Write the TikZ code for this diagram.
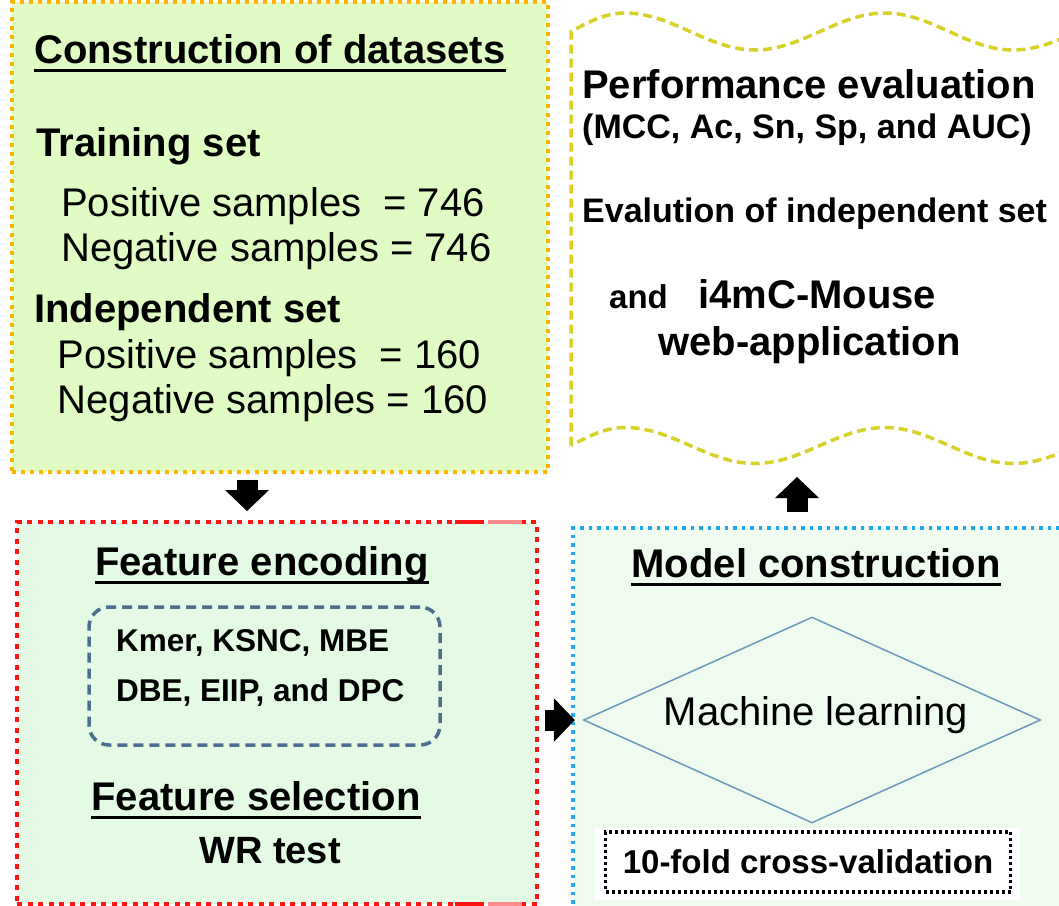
\documentclass[tikz,border=0pt]{standalone}
\usepackage{fontspec}
\setmainfont{Liberation Sans}
\usepackage{tikz}
\usetikzlibrary{shapes.geometric,arrows.meta,positioning}
\definecolor{dataorange}{RGB}{255,178,0}
\definecolor{datagreen}{RGB}{224,252,196}
\definecolor{featred}{RGB}{255,20,20}
\definecolor{featpink}{RGB}{255,140,140}
\definecolor{featgreen}{RGB}{228,250,228}
\definecolor{modelblue}{RGB}{30,170,240}
\definecolor{modelgreen}{RGB}{238,251,238}
\definecolor{perfyellow}{RGB}{215,210,40}
\definecolor{encblue}{RGB}{75,110,145}
\definecolor{mlblue}{RGB}{110,150,190}

\newcommand{\fsz}[1]{\fontsize{#1}{#1}\selectfont}

\begin{document}
\begin{tikzpicture}[x=1pt, y=-1pt,
    hd/.style={font=\fsz{40}\bfseries, inner sep=0pt},
    txt/.style={font=\fsz{40}, inner sep=0pt},
    sub/.style={font=\fsz{34}\bfseries, inner sep=0pt},
    ul/.style={append after command={([yshift=-7pt]\tikzlastnode.base west) edge[line width=3pt] ([yshift=-7pt]\tikzlastnode.base east)}},
    box/.style={draw, line width=4pt, inner sep=0pt},
    blockarrow/.style={line width=21pt, -{Triangle[length=21pt, width=44pt, line width=0pt]}}]

\useasboundingbox (0,0) rectangle (1059,905);

% Boxes
\node[box, draw=dataorange, fill=datagreen, dash pattern=on 4pt off 5pt,
      minimum width=536, minimum height=470] (data) at (280,237) {};
\node[box, draw=featred, fill=featgreen, dash pattern=on 5pt off 5.5pt,
      minimum width=520, minimum height=382] (feat) at (277,713) {};
\node[box, draw=modelblue, fill=modelgreen, line width=3.5pt, dash pattern=on 3.5pt off 5pt,
      minimum width=502, minimum height=392] (model) at (824,724) {};

% stray solid bits on the red border
\draw[featred, line width=4pt] (455,522) -- (483,522);
\draw[featpink, line width=4pt] (488,522) -- (522,522);
\draw[featred, line width=4pt] (455,904) -- (483,904);
\draw[featpink, line width=4pt] (488,904) -- (522,904);

% Performance evaluation (wavy document)
\draw[perfyellow, line width=3.5pt, dash pattern=on 9pt off 5pt]
    (571,445.5) -- (571,31.5) sin (625,13) cos (690,31.5) sin (755,50) cos (820,31.5)
    sin (885,13) cos (949,31.5) sin (1013,50) cos (1078,31.5) -- (1078,445.5)
    sin (1013,463.5) cos (949,445.5) sin (885,427.5) cos (820,445.5)
    sin (755,463.5) cos (690,445.5) sin (625,427.5) cos (571,445.5) -- cycle;

% (a) Construction of datasets
\node[hd, ul, anchor=base west] (datat) at (34,63) {Construction of datasets};
\node[hd, anchor=base west] (train) at (36,156) {Training set};
\node[txt, anchor=base west] (trpos) at (61,216) {Positive samples\ \ = 746};
\node[txt, anchor=base west] (trneg) at (61,261) {Negative samples = 746};
\node[hd, anchor=base west] (indep) at (34,322) {Independent set};
\node[txt, anchor=base west] (inpos) at (57.5,368) {Positive samples\ \ = 160};
\node[txt, anchor=base west] (inneg) at (57.5,413) {Negative samples = 160};

% (b) Performance evaluation
\node[hd, anchor=base west] (perft) at (582,98) {Performance evaluation};
\node[sub, anchor=base west] (metrics) at (582,138) {(MCC, Ac, Sn, Sp, and AUC)};
\node[sub, anchor=base west] (indev) at (582,222) {Evalution of independent set};
\node[sub, font=\fsz{33}\bfseries, anchor=base west] (and) at (609,308) {and};
\node[hd, anchor=base west] (tool) at (698,308) {i4mC-Mouse};
\node[hd, anchor=base west] (web) at (658,355) {web-application};

% (c) Feature encoding and selection
\node[hd, ul, anchor=base] (featt) at (262,575) {Feature encoding};
\node[draw=encblue, line width=3.5pt, dash pattern=on 10pt off 6pt, rounded corners=20pt,
      minimum width=351, minimum height=138, inner sep=0pt] (enc) at (264.5,676) {};
\node[sub, font=\fsz{31.5}\bfseries, anchor=base west] (enc1) at (116,651) {Kmer, KSNC, MBE};
\node[sub, font=\fsz{31.5}\bfseries, anchor=base west] (enc2) at (116,701) {DBE, EIIP, and DPC};
\node[hd, ul, anchor=base] (selt) at (256,810) {Feature selection};
\node[hd, font=\fsz{38}\bfseries, anchor=base] (wr) at (270,863) {WR test};

% (d) Model construction
\node[hd, ul, anchor=base] (modelt) at (816,577) {Model construction};
\node[diamond, draw=mlblue, line width=1.5pt, minimum width=457, minimum height=206,
      inner sep=0pt] (ml) at (812,720) {};
\node[txt, anchor=base] (mltext) at (816,725) {Machine learning};
\fill[white] (595,828) rectangle (1020,900);
\node[sub, font=\fsz{33}\bfseries, draw, line width=3.5pt, dash pattern=on 3pt off 3pt,
      fill=white, minimum width=405, minimum height=60] (cv) at (808,862) {10-fold cross-validation};

% Block arrows
\coordinate (dn) at (247,0);
\draw[blockarrow, shorten <=6pt, shorten >=9pt] (data.south -| dn) -- (feat.north -| dn);
\coordinate (up) at (797,477);
\draw[blockarrow, shorten <=14pt] (model.north -| up) -- (up);
\draw[blockarrow, shorten <=6pt, shorten >=8pt] (feat.east |- ml.west) -- (ml.west);

\end{tikzpicture}
\end{document}
